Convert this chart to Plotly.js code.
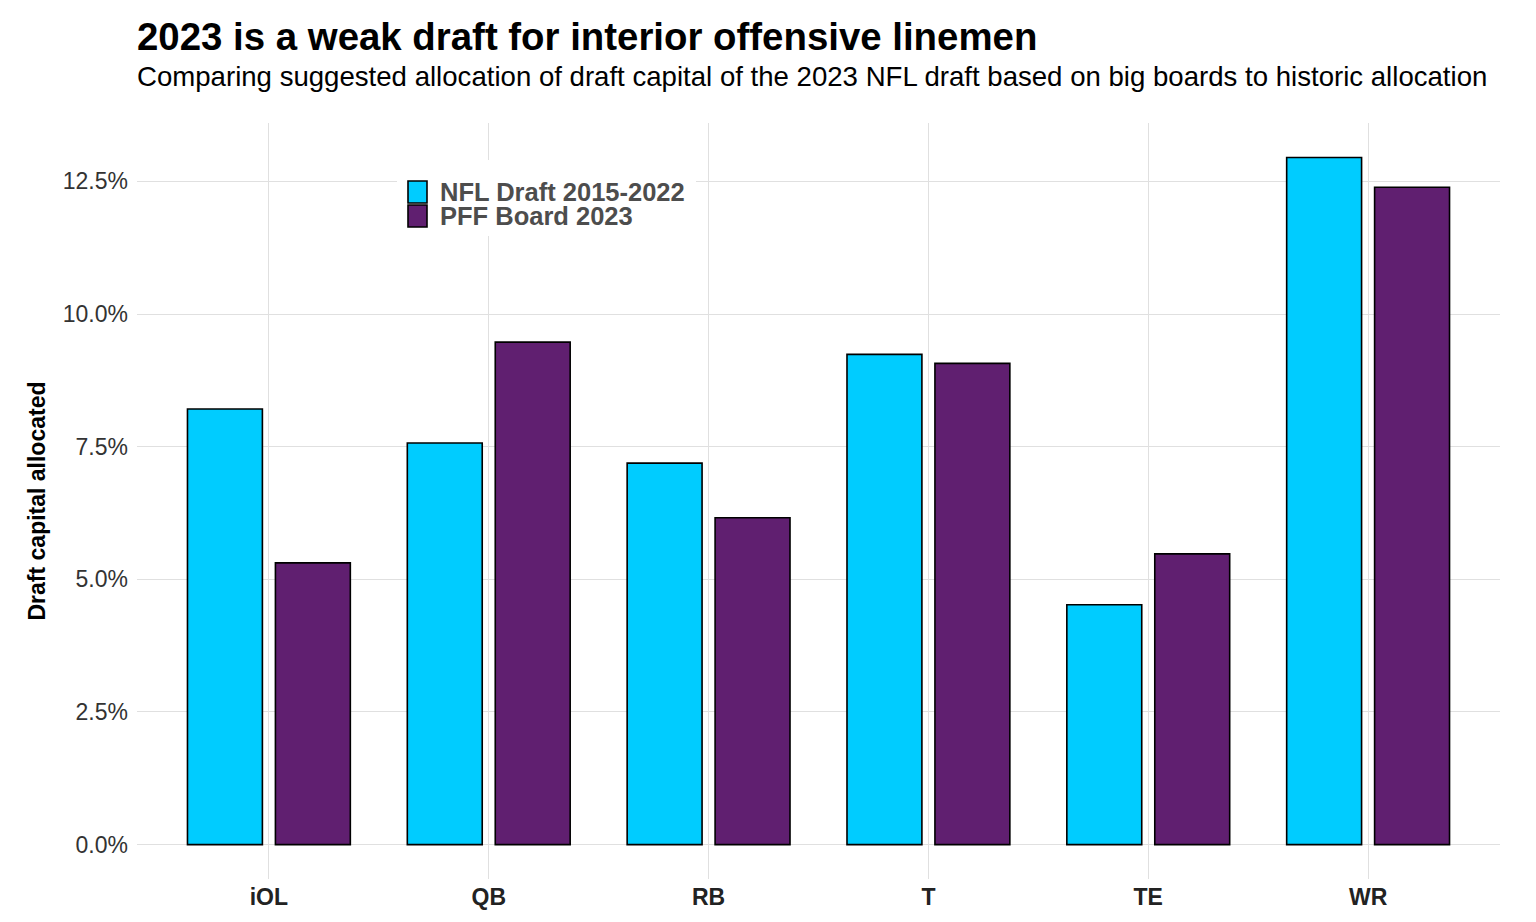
<!DOCTYPE html>
<html>
<head>
<meta charset="utf-8">
<script src="https://cdn.plot.ly/plotly-3.0.1.min.js"></script>
<style>html,body{margin:0;padding:0;background:#fff;}#chart{width:1536px;height:922px;}</style>
</head>
<body>
<div id="chart"></div>
<script>
const positions = ["iOL", "QB", "RB", "T", "TE", "WR"];
const nflDraft = [8.21, 7.57, 7.19, 9.24, 4.52, 12.95];
const pffBoard = [5.31, 9.47, 6.16, 9.07, 5.48, 12.39];
const seriesNames = ["NFL Draft 2015-2022", "PFF Board 2023"];
const seriesColors = ["#00CCFF", "#601F70"];
const yTicks = [0, 2.5, 5, 7.5, 10, 12.5];

const font = "Liberation Sans, Arial, sans-serif";
const W = 1536, H = 922, ML = 137, MR = 36, MT = 123, MB = 43;
const PW = W - ML - MR, PH = H - MT - MB;
const px = x => (x - ML) / PW;          // pixel -> paper x
const py = y => 1 - (y - MT) / PH;      // pixel -> paper y

const traces = [nflDraft, pffBoard].map((vals, i) => ({
  type: "bar", name: seriesNames[i], x: positions, y: vals, showlegend: false,
  marker: {color: seriesColors[i], line: {color: "#000000", width: 1.6}}
}));

// manual legend (key boxes + labels)
const legendShapes = [{
  type: "rect", xref: "paper", yref: "paper", layer: "above",
  x0: px(397), x1: px(696), y0: py(160), y1: py(236),
  fillcolor: "#ffffff", line: {width: 0}
}];
const legendAnnots = [];
seriesNames.forEach((name, i) => {
  const top = 181 + i * 24;
  legendShapes.push({
    type: "rect", xref: "paper", yref: "paper", layer: "above",
    x0: px(408), x1: px(427), y0: py(top), y1: py(top + 22),
    fillcolor: seriesColors[i], line: {color: "#000000", width: 1.6}
  });
  legendAnnots.push({
    text: "<b>" + name + "</b>", xref: "paper", yref: "paper",
    x: px(438), y: py(top + 11), xanchor: "left", yanchor: "middle", showarrow: false,
    font: {size: 25.5, color: "#4d4d4d", family: font}
  });
});

const layout = {
  width: W, height: H,
  margin: {l: ML, r: MR, t: MT, b: MB},
  paper_bgcolor: "#ffffff", plot_bgcolor: "#ffffff",
  barmode: "group", bargap: 0.2, bargroupgap: 0.148,
  font: {family: font, color: "#333333"},
  title: {text: "<b>2023 is a weak draft for interior offensive linemen</b>",
          font: {size: 38.4, color: "#000000", family: font},
          x: 137 / W, xanchor: "left", xref: "container", y: 1 - 37 / H, yanchor: "middle", yref: "container"},
  annotations: [{
    text: "Comparing suggested allocation of draft capital of the 2023 NFL draft based on big boards to historic allocation",
    xref: "paper", yref: "paper", x: 0, y: py(76), xanchor: "left", yanchor: "middle", xshift: -2,
    showarrow: false, font: {size: 27.6, color: "#000000", family: font}
  }].concat(legendAnnots),
  shapes: legendShapes,
  xaxis: {
    type: "category", range: [-0.6, 5.6], showgrid: true, gridcolor: "#e0e0e0", gridwidth: 1,
    zeroline: false, showline: false, ticks: "",
    tickfont: {size: 23, color: "#222222", family: font}, ticklabelstandoff: 2,
    tickprefix: "<b>", ticksuffix: "</b>"
  },
  yaxis: {
    range: [-0.6475, 13.6], tickvals: yTicks, ticktext: yTicks.map(v => v.toFixed(1) + "%"),
    showgrid: true, gridcolor: "#e0e0e0", gridwidth: 1, zeroline: false, showline: false, ticks: "",
    tickfont: {size: 23, color: "#333333", family: font}, ticklabelstandoff: 8,
    title: {text: "<b>Draft capital allocated</b>", font: {size: 23, color: "#000000", family: font}, standoff: 10}
  },
  showlegend: false
};
Plotly.newPlot("chart", traces, layout, {displayModeBar: false, staticPlot: true});
</script>
</body>
</html>
